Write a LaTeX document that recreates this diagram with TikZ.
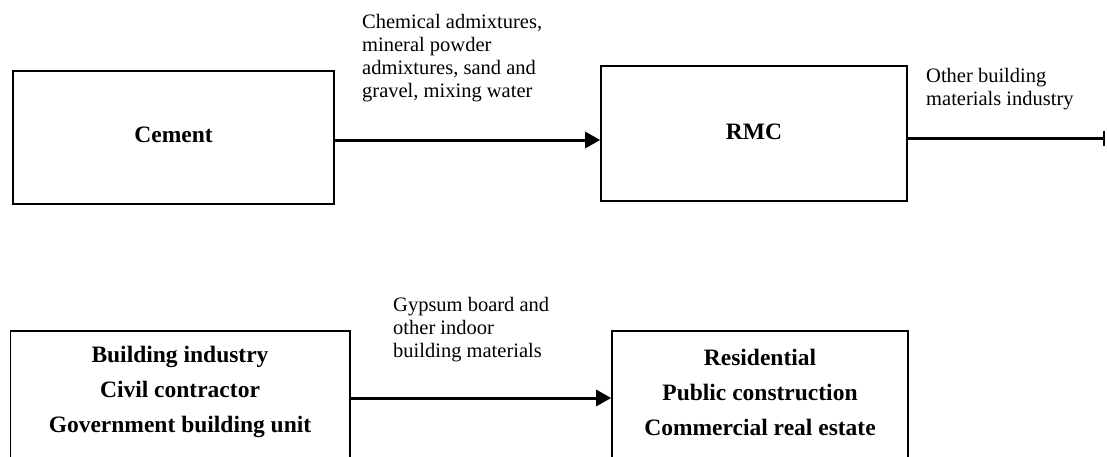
\documentclass[tikz,border=0pt]{standalone}
\usepackage{fontspec}
\setmainfont{Liberation Serif}
\usetikzlibrary{arrows.meta}
\begin{document}
\begin{tikzpicture}[x=1pt,y=-1pt,
  box/.style={draw, line width=1.6pt, inner sep=0pt},
  flow/.style={line width=3pt},
  lbl/.style={font=\fontsize{20.5}{22.7}\selectfont, align=left, anchor=base west, inner sep=0pt},
  boldtxt/.style={font=\fontsize{23.5}{35}\selectfont\bfseries, align=center, anchor=base, inner sep=0pt},
  tip/.style={-{Triangle[length=15pt,width=16pt]}}
]
\useasboundingbox (0,0) rectangle (1107,456);
\clip (0,0) rectangle (1107,456);
% boxes
\node[box, minimum width=321pt, minimum height=133pt] (cement) at (173.5,137.5) {};
\node[box, minimum width=306pt, minimum height=135pt] (rmc) at (754,133.5) {};
\node[box, minimum width=339.4pt, minimum height=149pt] (users) at (180.3,405.5) {};
\node[box, minimum width=296pt, minimum height=149pt] (markets) at (760,405.5) {};
% box texts (base anchor = last line baseline)
\node[boldtxt] (cementtext) at (173.5,142) {Cement};
\node[boldtxt] (rmctext) at (754,139) {RMC};
\node[boldtxt] (userstext) at (180,432) {Building industry\\Civil contractor\\Government building unit};
\node[boldtxt] (marketstext) at (760,435) {Residential\\Public construction\\Commercial real estate};
% connectors
\coordinate (y1) at (0,140);
\draw[flow,tip] (cement.east |- y1) -- (rmc.west |- y1);
\coordinate (endr) at (1104.5,138);
\draw[flow,-{Bar[width=15pt,line width=2pt]}] (rmc.east |- endr) -- (endr);
\coordinate (y2) at (0,398);
\draw[flow,tip] (users.east |- y2) -- (markets.west |- y2);
% labels
\node[lbl] (chem) at (362,97) {Chemical admixtures,\\mineral powder\\admixtures, sand and\\gravel, mixing water};
\node[lbl] (other) at (926,105) {Other building\\materials industry};
\node[lbl] (gyp) at (393,357) {Gypsum board and\\other indoor\\building materials};
\end{tikzpicture}
\end{document}
